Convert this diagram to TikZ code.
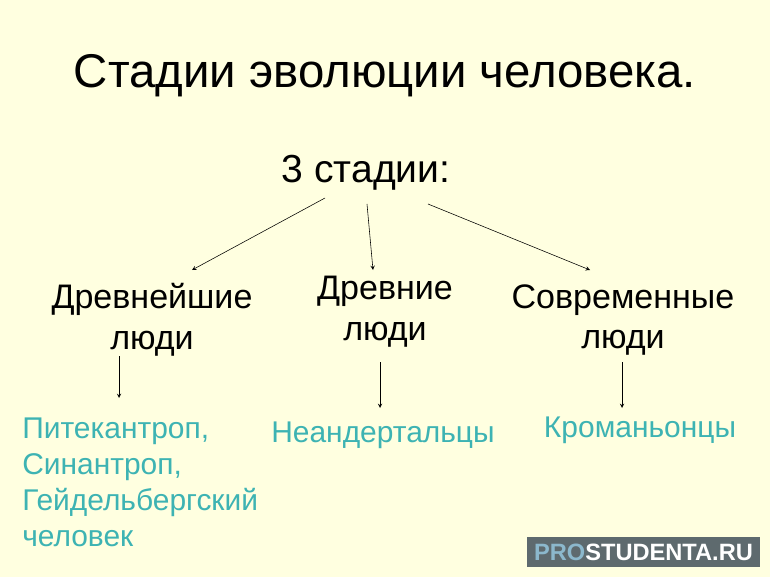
\documentclass[tikz,border=0pt]{standalone}
\usepackage{fontspec}
\setmainfont{Liberation Sans}
\usetikzlibrary{arrows}

\definecolor{slidebg}{HTML}{FFFFE0}
\definecolor{tealtext}{HTML}{3DB3B3}
\definecolor{markbox}{HTML}{5E6A6E}
\definecolor{markpro}{HTML}{8CB8CC}

\tikzset{
  stagelabel/.style={align=center, font=\fontsize{24.2}{29}\selectfont, inner sep=0pt},
  examplelabel/.style={text=tealtext, font=\fontsize{21.3}{25.6}\selectfont, inner sep=0pt},
  arr/.style={->, >=stealth, thin}
}

\begin{document}
\begin{tikzpicture}[x=0.025cm, y=-0.025cm]
			\fill [slidebg] (0,0) rectangle (770,577);
			\useasboundingbox (0,0) rectangle (770,577);

			\node (title) at (385,76) {\fontsize{33.7}{38}\selectfont Стадии эволюции человека.};
			\node (stages) at (366,173) {\fontsize{27.8}{30}\selectfont 3 стадии:};

			\node (oldest) [stagelabel] at (152,320) {Древнейшие\\люди};
			\node (ancient) [stagelabel] at (385,312) {Древние\\люди};
			\node (modern) [stagelabel] at (623,320) {Современные\\люди};

			\node (pith) [examplelabel, align=left, anchor=north west] at (22,418) {Питекантроп,\\Синантроп,\\Гейдельбергский\\человек};
			\node (neand) [examplelabel] at (383,435) {Неандертальцы};
			\node (cro) [examplelabel] at (640,430) {Кроманьонцы};

			\draw [arr] ([shift={(-41,25)}]stages.center) -- ([shift={(40,-50)}]oldest.center);
			\draw [arr] ([shift={(1,31)}]stages.center) -- ([shift={(-12,-42)}]ancient.center);
			\draw [arr] ([shift={(62,31)}]stages.center) -- ([shift={(-33,-50)}]modern.center);

			\draw [arr] ([shift={(-33,36)}]oldest.center) -- ([shift={(-33,78)}]oldest.center);
			\draw [arr] ([shift={(-5,50)}]ancient.center) -- ([shift={(-3,-27)}]neand.center);
			\draw [arr] ([shift={(-1,42)}]modern.center) -- ([shift={(-18,-22)}]cro.center);

			\node (mark) [fill=markbox, minimum width=233*0.025cm, minimum height=30*0.025cm, inner sep=0pt] at (643.5,552) {\bfseries\fontsize{16.8}{18}\selectfont\textcolor{markpro}{PRO}\textcolor{white}{STUDENTA.RU}};
		\end{tikzpicture}
\end{document}
